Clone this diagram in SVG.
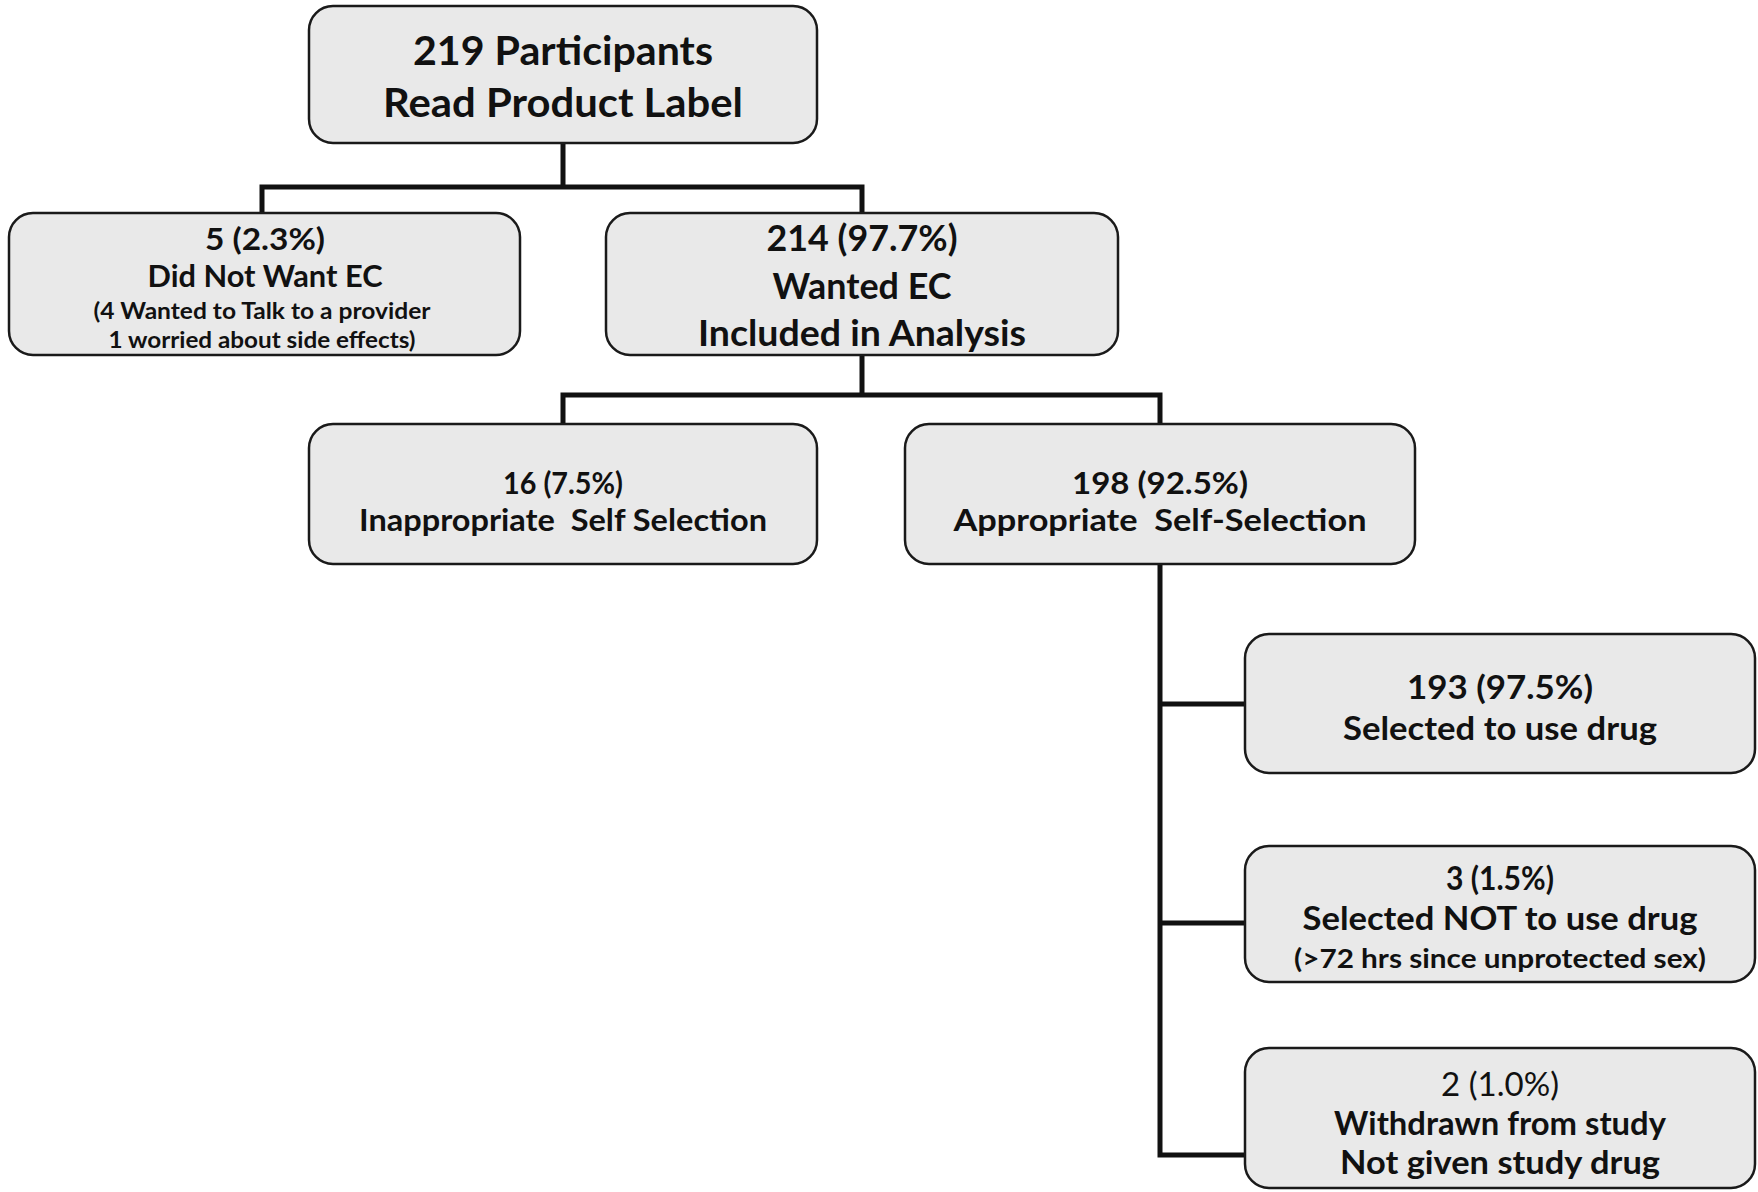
<svg xmlns="http://www.w3.org/2000/svg" width="1758" height="1192" viewBox="0 0 1758 1192">
<style>
.box{fill:#e9e9e9;stroke:#1a1a1a;stroke-width:2.5}
.conn{fill:none;stroke:#111;stroke-width:5;stroke-linecap:square}
text{font-family:Lato,"Liberation Sans",sans-serif;font-weight:bold;fill:#111;text-anchor:middle;white-space:pre}
.reg{font-weight:normal}
.t1{font-size:40px}
.t2{font-size:30px}
.t3{font-size:32px}
.t4{font-size:36px}
.s{font-size:23px}
.s2{font-size:26px}
</style>
<rect width="1758" height="1192" fill="#fff"/>
<g id="connectors">
<path class="conn" d="M563,143 V187 M262,187 H862 M262,187 V213 M862,187 V213"/>
<path class="conn" d="M862,355 V395 M563,395 H1160 M563,395 V424 M1160,395 V424"/>
<path class="conn" d="M1160,564 V1155 H1245 M1160,704 H1245 M1160,923 H1245"/>
</g>
<g id="node-participants">
<rect class="box" x="309" y="6" width="508" height="137" rx="24"/>
<text class="t1" x="563" y="65" textLength="300" lengthAdjust="spacingAndGlyphs">219 Participants</text>
<text class="t1" x="563" y="117" textLength="360" lengthAdjust="spacingAndGlyphs">Read Product Label</text>
</g>
<g id="node-not-want">
<rect class="box" x="9" y="213" width="511" height="142" rx="24"/>
<text class="t2" x="265" y="250" textLength="120" lengthAdjust="spacingAndGlyphs">5 (2.3%)</text>
<text class="t2" x="265" y="287" textLength="235" lengthAdjust="spacingAndGlyphs">Did Not Want EC</text>
<text class="s" x="262" y="319" textLength="337" lengthAdjust="spacingAndGlyphs">(4 Wanted to Talk to a provider</text>
<text class="s" x="262" y="348" textLength="307" lengthAdjust="spacingAndGlyphs">1 worried about side effects)</text>
</g>
<g id="node-wanted">
<rect class="box" x="606" y="213" width="512" height="142" rx="24"/>
<text class="t4" x="862" y="251" textLength="191" lengthAdjust="spacingAndGlyphs">214 (97.7%)</text>
<text class="t4" x="862" y="299" textLength="179" lengthAdjust="spacingAndGlyphs">Wanted EC</text>
<text class="t4" x="862" y="346" textLength="328" lengthAdjust="spacingAndGlyphs">Included in Analysis</text>
</g>
<g id="node-inappropriate">
<rect class="box" x="309" y="424" width="508" height="140" rx="24"/>
<text class="t2" x="563" y="494" textLength="120" lengthAdjust="spacingAndGlyphs">16 (7.5%)</text>
<text class="t2" x="563" y="531" textLength="408" lengthAdjust="spacingAndGlyphs">Inappropriate  Self Selection</text>
</g>
<g id="node-appropriate">
<rect class="box" x="905" y="424" width="510" height="140" rx="24"/>
<text class="t2" x="1160" y="494" textLength="176" lengthAdjust="spacingAndGlyphs">198 (92.5%)</text>
<text class="t2" x="1160" y="531" textLength="413" lengthAdjust="spacingAndGlyphs">Appropriate  Self-Selection</text>
</g>
<g id="node-use-drug">
<rect class="box" x="1245" y="634" width="510" height="139" rx="24"/>
<text class="t3" x="1500" y="699" textLength="186" lengthAdjust="spacingAndGlyphs">193 (97.5%)</text>
<text class="t3" x="1500" y="740" textLength="314" lengthAdjust="spacingAndGlyphs">Selected to use drug</text>
</g>
<g id="node-not-use-drug">
<rect class="box" x="1245" y="846" width="510" height="136" rx="24"/>
<text class="t3" x="1500" y="890" textLength="108" lengthAdjust="spacingAndGlyphs">3 (1.5%)</text>
<text class="t3" x="1500" y="930" textLength="395" lengthAdjust="spacingAndGlyphs">Selected NOT to use drug</text>
<text class="s2" x="1500" y="968" textLength="412" lengthAdjust="spacingAndGlyphs">(&gt;72 hrs since unprotected sex)</text>
</g>
<g id="node-withdrawn">
<rect class="box" x="1245" y="1048" width="510" height="140" rx="24"/>
<text class="t3 reg" x="1500" y="1096" textLength="118" lengthAdjust="spacingAndGlyphs">2 (1.0%)</text>
<text class="t3" x="1500" y="1135" textLength="332" lengthAdjust="spacingAndGlyphs">Withdrawn from study</text>
<text class="t3" x="1500" y="1174" textLength="320" lengthAdjust="spacingAndGlyphs">Not given study drug</text>
</g>
</svg>
